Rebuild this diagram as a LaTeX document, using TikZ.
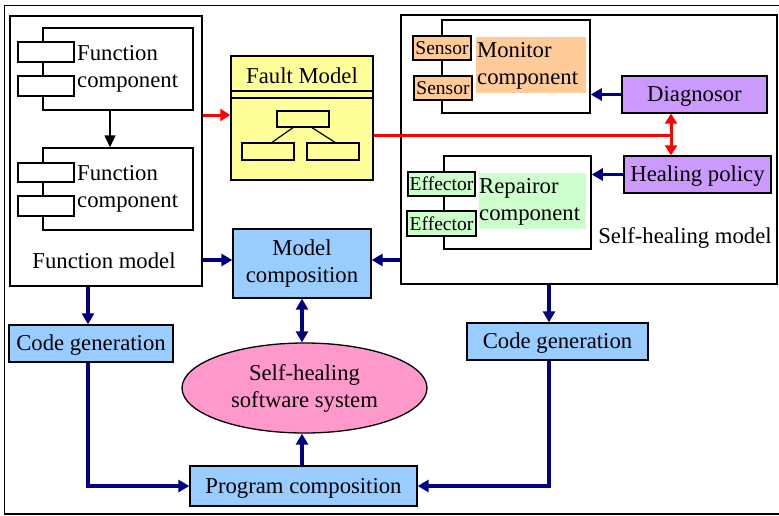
\documentclass[tikz,border=0pt]{standalone}
\usepackage{fontspec}
\setmainfont{Liberation Serif}
\usetikzlibrary{arrows.meta,shapes.geometric}
\definecolor{navyc}{RGB}{0,0,128}
\definecolor{lblue}{RGB}{153,204,255}
\definecolor{lpink}{RGB}{255,153,204}
\definecolor{lpurple}{RGB}{204,153,255}
\definecolor{lpeach}{RGB}{255,204,153}
\definecolor{lgreen}{RGB}{204,255,204}
\definecolor{lyellow}{RGB}{255,255,153}
\definecolor{bred}{RGB}{255,0,0}
\newcommand\bigfnt{\fontsize{22.7}{27}\selectfont}
\newcommand\smallfnt{\fontsize{19.5}{21}\selectfont}
\begin{document}
\begin{tikzpicture}[x=1pt,y=-1pt,
  box/.style={draw, line width=1.3pt, inner sep=0pt, align=center, font=\bigfnt},
  oneline/.style={text height=19pt, text depth=5pt},
  frame/.style={draw, line width=1.5pt, inner sep=0pt},
  tiny/.style={draw, line width=1.3pt, inner sep=0pt, fill=white},
  small/.style={draw, line width=1.3pt, inner sep=0pt, font=\smallfnt},
  lbl/.style={inner sep=0pt, font=\bigfnt, align=left},
  arr/.style={draw=navyc, line width=3.5pt, -{Triangle[length=11pt,width=12pt]}},
  redarr/.style={draw=bred, line width=3pt, -{Triangle[length=10pt,width=12pt]}},
  redline/.style={draw=bred, line width=3pt},
  redboth/.style={draw=bred, line width=3pt, {Triangle[length=10pt,width=12pt]}-{Triangle[length=10pt,width=12pt]}},
  blackarr/.style={draw, line width=1.5pt, -{Triangle[length=12pt,width=11pt]}}
]
\useasboundingbox (0,0) rectangle (779,515);
\begin{scope}
  \clip (0,0) rectangle (779,515);
  \draw[line width=1.5pt] (4.5,5.5) rectangle (790,514);
\end{scope}

% Function model
\node[frame, minimum width=192pt, minimum height=270pt] (fm) at (106,151) {};
\node[lbl] (fmlbl) at (104,261) {Function model};
\node[frame, minimum width=150pt, minimum height=82pt] (fc1) at (118,69) {};
\node[tiny, minimum width=56pt, minimum height=20pt] (s1) at (46,52) {};
\node[tiny, minimum width=56pt, minimum height=20pt] (s2) at (46,86) {};
\node[lbl, anchor=west] (fc1t) at (77,69) {Function\\component};
\node[frame, minimum width=150pt, minimum height=82pt] (fc2) at (118,189) {};
\node[tiny, minimum width=56pt, minimum height=19pt] (s3) at (46,172.5) {};
\node[tiny, minimum width=56pt, minimum height=20pt] (s4) at (46,206) {};
\node[lbl, anchor=west] (fc2t) at (77,189) {Function\\component};
\draw[blackarr] ([xshift=-8pt]fc1.south) -- ([xshift=-8pt]fc2.north);

% Fault model
\node[frame, fill=lyellow, minimum width=142pt, minimum height=124pt] (fault) at (302,118) {};
\draw[line width=1.2pt] (231,91) -- (373,91);
\draw[line width=1.2pt] (231,98) -- (373,98);
\node[lbl] (faultt) at (302,76) {Fault Model};
\node[tiny, fill=lyellow, minimum width=52pt, minimum height=16pt] (t1) at (303,119) {};
\node[tiny, fill=lyellow, minimum width=52pt, minimum height=17pt] (t2) at (268,151.5) {};
\node[tiny, fill=lyellow, minimum width=52pt, minimum height=17pt] (t3) at (333,151.5) {};
\draw[line width=1.2pt] ([xshift=-10pt]t1.south) -- ([xshift=4pt]t2.north);
\draw[line width=1.2pt] ([xshift=9pt]t1.south) -- ([xshift=2pt]t3.north);

% Self-healing model
\node[frame, minimum width=376pt, minimum height=269pt] (shm) at (589,149.5) {};
\node[lbl] (shmt) at (685,238) {Self-healing model};
\node[frame, minimum width=148pt, minimum height=93pt] (mon) at (516,66.5) {};
\node[small, fill=lpeach, minimum width=58pt, minimum height=24pt] (sen1) at (442,48) {Sensor};
\node[small, fill=lpeach, minimum width=58pt, minimum height=24pt] (sen2) at (443,88) {Sensor};
\fill[lpeach] (476,37) rectangle (586,93);
\node[lbl, anchor=west] (mont) at (477,66) {Monitor\\component};
\node[box, oneline, fill=lpurple, minimum width=145pt, minimum height=37pt] (diag) at (694.5,94.5) {Diagnosor};

\node[frame, minimum width=147pt, minimum height=93pt] (rep) at (517.5,202.5) {};
\node[small, fill=lgreen, minimum width=67pt, minimum height=24pt] (eff1) at (441.5,184) {Effector};
\node[small, fill=lgreen, minimum width=69pt, minimum height=25pt] (eff2) at (441.5,223.5) {Effector};
\fill[lgreen] (479,173) rectangle (586,229);
\node[lbl, anchor=west] (rept) at (479,202) {Repairor\\component};
\node[box, oneline, fill=lpurple, minimum width=147pt, minimum height=37pt] (heal) at (697.5,174.5) {Healing policy};

% red connectors
\coordinate (redy) at (0,115);
\coordinate (rx) at (671,135);
\draw[redarr] (fm.east |- redy) -- (fault.west |- redy);
\draw[redline] (fault.east |- rx) -- (rx);
\draw[redboth] (diag.south -| rx) -- (heal.north -| rx);

\draw[arr] (diag.west) -- (mon.east |- diag.west);
\draw[arr] (heal.west) -- (rep.east |- heal.west);

% Lower part
\node[box, fill=lblue, minimum width=138pt, minimum height=69pt] (mc) at (302,263.5) {Model\\composition};
\node[box, oneline, fill=lblue, minimum width=164pt, minimum height=37pt] (cg1) at (91,343.5) {Code generation};
\node[box, oneline, fill=lblue, minimum width=181pt, minimum height=37pt] (cg2) at (557.5,341.5) {Code generation};
\node[box, ellipse, fill=lpink, minimum width=245pt, minimum height=90pt] (ell) at (304.5,388) {Self-healing\\software system};
\node[box, oneline, fill=lblue, minimum width=227pt, minimum height=40pt] (pc) at (303.5,486) {Program composition};

\coordinate (cx1) at (88,0);
\coordinate (cx2) at (549,0);
\coordinate (cy) at (0,260);
\draw[arr] (fm.east |- cy) -- (mc.west |- cy);
\draw[arr] (shm.west |- cy) -- (mc.east |- cy);
\draw[arr] (fm.south -| cx1) -- (cg1.north -| cx1);
\draw[arr] (shm.south -| cx2) -- (cg2.north -| cx2);
\draw[draw=navyc, line width=3.5pt, {Triangle[length=11pt,width=12pt]}-{Triangle[length=11pt,width=12pt]}] (mc.south) -- (ell.north -| mc.south);
\draw[arr] (pc.north -| mc.south) -- (ell.south -| mc.south);
\draw[arr] (cg1.south -| cx1) |- (pc.west);
\draw[arr] (cg2.south -| cx2) |- (pc.east);
\end{tikzpicture}
\end{document}
